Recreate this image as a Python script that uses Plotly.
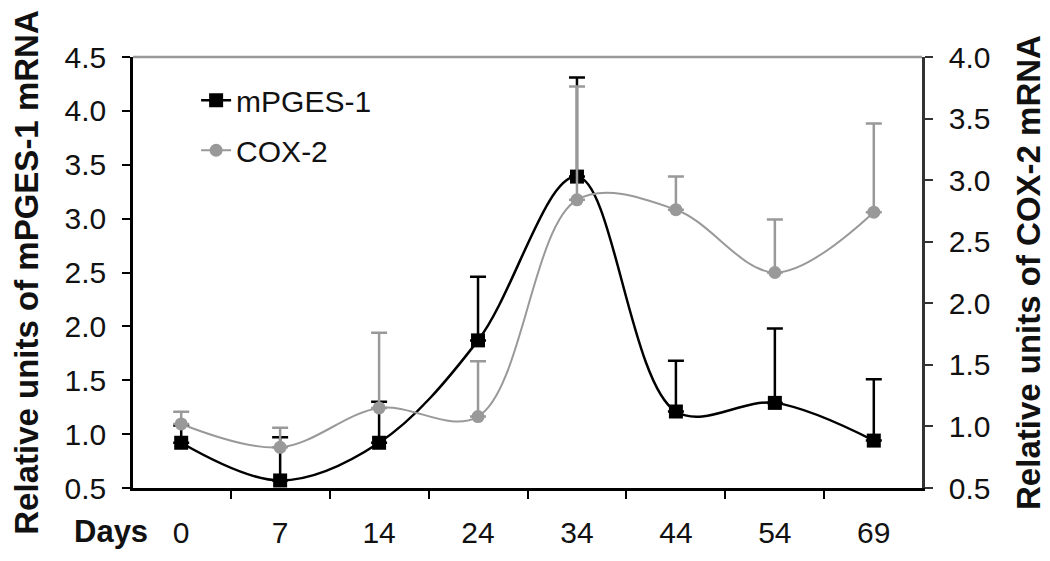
import plotly.graph_objects as go

days = ["0", "7", "14", "24", "34", "44", "54", "69"]
mpges = [0.92, 0.57, 0.92, 1.87, 3.39, 1.21, 1.29, 0.94]
mpges_err = [0.16, 0.40, 0.38, 0.59, 0.92, 0.47, 0.69, 0.57]
cox2 = [1.02, 0.83, 1.15, 1.08, 2.84, 2.76, 2.25, 2.74]
cox2_err = [0.10, 0.16, 0.61, 0.45, 0.92, 0.27, 0.43, 0.72]

FONT = "Liberation Sans, Arial, sans-serif"
GRAY = "#999999"
TXT = "#111111"

fig = go.Figure()
fig.add_trace(go.Scatter(
    x=days, y=mpges, name="mPGES-1", mode="lines+markers", legendgroup="a",
    line=dict(color="black", width=2.5, shape="spline", smoothing=1.0),
    marker=dict(symbol="square", size=14, color="black"),
    error_y=dict(type="data", array=mpges_err, arrayminus=[0]*len(mpges),
                 symmetric=False, color="black", thickness=2.5, width=8),
))
fig.add_trace(go.Scatter(
    x=days, y=cox2, name="COX-2", mode="lines+markers", yaxis="y2", legendgroup="b",
    line=dict(color=GRAY, width=2, shape="spline", smoothing=1.0),
    marker=dict(symbol="circle", size=13, color=GRAY),
    error_y=dict(type="data", array=cox2_err, arrayminus=[0]*len(cox2),
                 symmetric=False, color=GRAY, thickness=2.5, width=8),
))

fig.update_layout(
    width=1042, height=553,
    margin=dict(l=125, r=128, t=49, b=73, autoexpand=False),
    paper_bgcolor="white", plot_bgcolor="white",
    font=dict(family=FONT, size=30, color=TXT),
    showlegend=True,
    legend=dict(x=0.08, y=0.96, xanchor="left", yanchor="top",
                bgcolor="rgba(0,0,0,0)", font=dict(size=30),
                tracegroupgap=8),
    xaxis=dict(type="category", showline=True, linecolor="black", linewidth=2.5,
               ticks="outside", tickson="boundaries", ticklen=8, tickwidth=2,
               tickcolor="black", showgrid=False, zeroline=False,
               tickfont=dict(size=30), ticklabelstandoff=16),
    yaxis=dict(range=[0.5, 4.5], dtick=0.5, tickformat=".1f", showline=True,
               linecolor="black", linewidth=2.5, ticks="outside", ticklen=8,
               tickwidth=2, tickcolor="black", showgrid=False, zeroline=False,
               tickfont=dict(size=30), ticklabelstandoff=10,
               title=dict(text="<b>Relative units of mPGES-1 mRNA</b>",
                          font=dict(size=33, color=TXT), standoff=16)),
    yaxis2=dict(range=[0.5, 4.0], dtick=0.5, tickformat=".1f", overlaying="y",
                side="right", showline=True, linecolor="#333333", linewidth=2.5,
                ticks="outside", ticklen=8, tickwidth=2, tickcolor="#333333",
                showgrid=False, zeroline=False, tickfont=dict(size=30),
                ticklabelstandoff=10,
                title=dict(text="<b>Relative units of COX-2 mRNA</b>",
                           font=dict(size=33, color=TXT), standoff=28)),
)

fig.add_shape(type="line", xref="paper", yref="paper", x0=0, x1=1, y0=1, y1=1,
              line=dict(color=GRAY, width=2.5))
fig.add_annotation(text="<b>Days</b>", xref="paper", yref="paper", x=0.0215, y=-0.102,
                   xanchor="right", yanchor="middle", showarrow=False,
                   font=dict(size=31, color=TXT))

fig.write_html("out.html")
